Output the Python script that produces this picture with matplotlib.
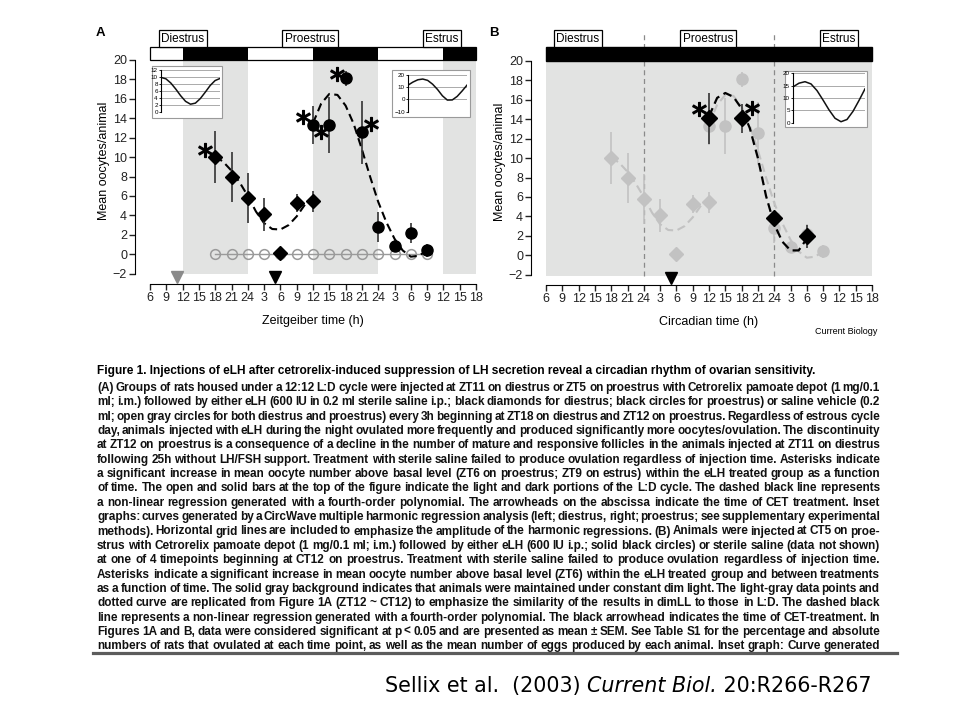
import numpy as np
import matplotlib
matplotlib.use("Agg")
import matplotlib.pyplot as plt
from matplotlib.patches import Rectangle

plt.rcParams['font.family'] = ['Liberation Sans', 'DejaVu Sans']

W, H = 960, 720

# ---- data (hours on a running clock: second day = ZT + 24) ----
tick_pos = list(range(6, 67, 3))
tick_labels = ['6', '9', '12', '15', '18', '21', '24', '3', '6', '9', '12', '15',
               '18', '21', '24', '3', '6', '9', '12', '15', '18']
y_ticks = [-2, 0, 2, 4, 6, 8, 10, 12, 14, 16, 18, 20]

dark_start = [12, 36, 60]
dark_end = [24, 48, 66]

diestrus_t = [18, 21, 24, 27, 30, 33, 36]
diestrus_y = [10.0, 7.95, 5.8, 4.1, 0.15, 5.3, 5.45]
diestrus_err = [2.65, 2.6, 2.6, 1.7, 0.0, 0.95, 1.1]

proestrus_t = [36, 39, 42, 45, 48, 51, 54, 57]
proestrus_y = [13.35, 13.3, 18.1, 12.55, 2.8, 0.82, 2.2, 0.4]
proestrus_err = [1.95, 2.85, 0.8, 3.25, 1.55, 0.6, 1.0, 0.7]

saline_t = [18, 21, 24, 27, 30, 33, 36, 39, 42, 45, 48, 51, 54, 57]
saline_y = [0, 0, 0, 0, 0, 0, 0, 0, 0, 0, 0, 0, 0, 0]

# fourth-order polynomial fits
fit_d_t = [18, 19.5, 21, 22.5, 24, 25.5, 27, 28.5, 30, 31.5, 33, 34.5]
fit_d_y = [10.1, 9.5, 8.6, 7.4, 6.0, 4.4, 3.2, 2.6, 2.55, 3.0, 3.9, 5.1]
fit_p_t = [36, 37.5, 39, 40.5, 42, 43.5, 45, 46.5, 48, 49.5, 51, 52.5, 54, 55.5, 57]
fit_p_y = [13.5, 15.5, 16.5, 16.4, 15.3, 13.4, 10.8, 8.0, 5.4, 3.3, 1.6, 0.4, -0.25, -0.15, 0.4]

star_a_t = [16.2, 34.2, 37.5, 40.4, 46.6]
star_a_y = [10.7, 14.1, 12.6, 18.6, 13.4]

cet_a_t = [11, 29]
cet_a_col = ['#8a8a8a', 'black']

# panel B (constant dim light)
dimll_t = [36, 42, 48, 54]
dimll_y = [14.1, 14.1, 3.8, 1.95]
dimll_err = [2.65, 1.5, 0.3, 1.2]
fit_b_t = [36, 37.5, 39, 40.5, 42, 43.5, 45, 46.5, 48, 49.5, 51, 52.5, 54]
fit_b_y = [14.3, 16.2, 16.7, 16.3, 15.1, 13.1, 10.0, 6.1, 3.2, 1.4, 0.5, 0.5, 1.7]
star_b_t = [34.2, 44.0]
star_b_y = [15.1, 15.2]
cet_b_t = [29]
ct_lines = [24, 48]

# inset curves (CircWave), x = hours of one cycle
inset_t = [0, 2, 4, 6, 8, 10, 12, 14, 16, 18, 20, 22, 24]
inset_di = [9.9, 9.5, 8.3, 6.6, 4.7, 3.1, 2.3, 2.6, 3.9, 5.7, 7.6, 9.0, 9.6]
inset_pro = [11.7, 14.2, 16.1, 16.7, 15.6, 12.5, 8.2, 3.0, -0.5, -0.4, 2.5, 6.9, 11.7]
inset_b = [14.5, 16.0, 16.6, 15.7, 13.0, 9.2, 5.2, 1.8, 0.4, 1.3, 4.6, 9.0, 13.7]

phases = ['Diestrus', 'Proestrus', 'Estrus']

caption_title = ("Figure 1. Injections of eLH after cetrorelix-induced suppression of LH "
                 "secretion reveal a circadian rhythm of ovarian sensitivity.")
caption_lines = [
    "(A) Groups of rats housed under a 12:12 L:D cycle were injected at ZT11 on diestrus or ZT5 on proestrus with Cetrorelix pamoate depot (1 mg/0.1",
    "ml; i.m.) followed by either eLH (600 IU in 0.2 ml sterile saline i.p.; black diamonds for diestrus; black circles for proestrus) or saline vehicle (0.2",
    "ml; open gray circles for both diestrus and proestrus) every 3h beginning at ZT18 on diestrus and ZT12 on proestrus. Regardless of estrous cycle",
    "day, animals injected with eLH during the night ovulated more frequently and produced significantly more oocytes/ovulation. The discontinuity",
    "at ZT12 on proestrus is a consequence of a decline in the number of mature and responsive follicles in the animals injected at ZT11 on diestrus",
    "following 25h without LH/FSH support. Treatment with sterile saline failed to produce ovulation regardless of injection time. Asterisks indicate",
    "a significant increase in mean oocyte number above basal level (ZT6 on proestrus; ZT9 on estrus) within the eLH treated group as a function",
    "of time. The open and solid bars at the top of the figure indicate the light and dark portions of the L:D cycle. The dashed black line represents",
    "a non-linear regression generated with a fourth-order polynomial. The arrowheads on the abscissa indicate the time of CET treatment. Inset",
    "graphs: curves generated by a CircWave multiple harmonic regression analysis (left; diestrus, right; proestrus; see supplementary experimental",
    "methods). Horizontal grid lines are included to emphasize the amplitude of the harmonic regressions. (B) Animals were injected at CT5 on proe-",
    "strus with Cetrorelix pamoate depot (1 mg/0.1 ml; i.m.) followed by either eLH (600 IU i.p.; solid black circles) or sterile saline (data not shown)",
    "at one of 4 timepoints beginning at CT12 on proestrus. Treatment with sterile saline failed to produce ovulation regardless of injection time.",
    "Asterisks indicate a significant increase in mean oocyte number above basal level (ZT6) within the eLH treated group and between treatments",
    "as a function of time. The solid gray background indicates that animals were maintained under constant dim light. The light-gray data points and",
    "dotted curve are replicated from Figure 1A (ZT12 ~ CT12) to emphasize the similarity of the results in dimLL to those in L:D. The dashed black",
    "line represents a non-linear regression generated with a fourth-order polynomial. The black arrowhead indicates the time of CET-treatment.  In",
    "Figures 1A and B, data were considered significant at p < 0.05 and are presented as mean \u00b1 SEM. See Table S1 for the percentage and absolute",
    "numbers of rats that ovulated at each time point, as well as the mean number of eggs produced by each animal. Inset graph: Curve generated",
]

SHADE = '#e2e3e2'
LGRAY = '#c2c2c2'
CAP_FS = 8.45


def rect(l, t, r, b):
    # pixel box (top-left origin) -> figure fraction rect
    return [l / W, 1 - b / H, (r - l) / W, (b - t) / H]


fig = plt.figure(figsize=(9.6, 7.2), dpi=100)


def style_main(ax, xlabel):
    ax.set_xlim(6, 66)
    ax.set_ylim(-3.1, 21.3)
    for s in ['top', 'right']:
        ax.spines[s].set_visible(False)
    ax.spines['left'].set_position(('outward', 11))
    ax.spines['left'].set_bounds(-2, 20)
    ax.spines['bottom'].set_bounds(6, 66)
    ax.set_xticks(tick_pos)
    ax.set_xticklabels(tick_labels)
    ax.set_yticks(y_ticks)
    ax.tick_params(labelsize=9, length=4, width=1, pad=1.5, colors='#222222')
    ax.set_xlabel(xlabel, fontsize=9)
    ax.xaxis.set_label_coords(0.5, -0.128)
    ax.set_ylabel('Mean oocytes/animal', fontsize=9)
    ax.yaxis.set_label_coords(-0.123, 0.52)
    ax.set_facecolor('none')


def inset(box, inner, t, y, ylim, yt):
    l, t0, r, b = box
    fig.patches.append(Rectangle((l / W, 1 - b / H), (r - l) / W, (b - t0) / H,
                                 transform=fig.transFigure, facecolor='white',
                                 edgecolor='#9a9a9a', linewidth=0.8, zorder=5))
    ia = fig.add_axes(rect(*inner), zorder=6)
    ia.set_facecolor('none')
    ia.plot(t, y, color='#111111', lw=1.1)
    ia.set_xlim(0, 24)
    ia.set_ylim(*ylim)
    ia.set_yticks(yt)
    ia.grid(axis='y', color='#aaaaaa', lw=0.7)
    ia.set_xticks([])
    for s in ['top', 'right', 'bottom']:
        ia.spines[s].set_visible(False)
    ia.spines['left'].set_linewidth(0.8)
    ia.tick_params(labelsize=4.5, length=1.5, width=0.6, pad=0.8)
    return ia


# ================= Panel A =================
axA = fig.add_axes(rect(150, 47.3, 476, 284.4))
style_main(axA, 'Zeitgeiber time (h)')
for s, e in zip(dark_start, dark_end):
    axA.add_patch(Rectangle((s, -2), e - s, 22, facecolor=SHADE, edgecolor='none', zorder=0))
# light/dark bar at the top
edges = sorted(set([6] + dark_start + dark_end + [66]))
for a, b in zip(edges[:-1], edges[1:]):
    dark = any(s <= a < e for s, e in zip(dark_start, dark_end))
    axA.add_patch(Rectangle((a, 20), b - a, 1.3, facecolor='black' if dark else 'white',
                            edgecolor='none', clip_on=False, zorder=3))
axA.add_patch(Rectangle((6, 20), 60, 1.3, facecolor='none', edgecolor='black',
                        lw=0.9, clip_on=False, zorder=4))

axA.plot(saline_t, saline_y, color='#9a9a9a', lw=1, marker='o', ms=7,
         mfc='none', mec='#9a9a9a', mew=1.1, zorder=2)
axA.plot(fit_d_t, fit_d_y, color='black', lw=1.5, ls=(0, (4, 2.2)), zorder=3)
axA.plot(fit_p_t, fit_p_y, color='black', lw=1.5, ls=(0, (4, 2.2)), zorder=3)
axA.errorbar(diestrus_t, diestrus_y, yerr=diestrus_err, fmt='D', ms=7, color='black',
             ecolor='#333333', elinewidth=1.2, capsize=0, zorder=4)
axA.errorbar(proestrus_t, proestrus_y, yerr=proestrus_err, fmt='o', ms=8, color='black',
             ecolor='#333333', elinewidth=1.2, capsize=0, zorder=4)
axA.plot(star_a_t, star_a_y, ls='none', marker='$*$', ms=10, color='black', zorder=5)
for t, c in zip(cet_a_t, cet_a_col):
    axA.plot([t], [-2.35], marker='v', ms=8, color=c, ls='none', clip_on=False, zorder=5)

inset((152, 66, 222, 118), (161, 70, 220, 112.3), inset_t, inset_di, (0, 12),
      [0, 2, 4, 6, 8, 10, 12])
inset((392, 70, 470, 117), (408, 75, 467, 111.7), inset_t, inset_pro, (-10, 20),
      [-10, 0, 10, 20])

# ================= Panel B =================
axB = fig.add_axes(rect(546, 48.3, 872, 285.4))
style_main(axB, 'Circadian time (h)')
axB.add_patch(Rectangle((6, -2.1), 60, 22.1, facecolor=SHADE, edgecolor='none', zorder=0))
axB.add_patch(Rectangle((6, 20), 60, 1.45, facecolor='black', edgecolor='black',
                        clip_on=False, zorder=3))
for t in ct_lines:
    axB.plot([t, t], [-2.1, 23.0], color='#8a8a8a', lw=0.9, ls=(0, (4, 3)),
             clip_on=False, zorder=1)
# replicated light-gray data from panel A
axB.plot(fit_d_t, fit_d_y, color=LGRAY, lw=1.5, ls=(0, (4, 2.2)), zorder=2)
axB.plot(fit_p_t, fit_p_y, color=LGRAY, lw=1.5, ls=(0, (4, 2.2)), zorder=2)
axB.errorbar(diestrus_t, diestrus_y, yerr=diestrus_err, fmt='D', ms=7, color=LGRAY,
             elinewidth=1.2, capsize=0, zorder=2)
axB.errorbar(proestrus_t, proestrus_y, yerr=proestrus_err, fmt='o', ms=8, color=LGRAY,
             elinewidth=1.2, capsize=0, zorder=2)
axB.plot(fit_b_t, fit_b_y, color='black', lw=1.6, ls=(0, (4, 2.2)), zorder=3)
axB.errorbar(dimll_t, dimll_y, yerr=dimll_err, fmt='D', ms=8, color='black',
             ecolor='#333333', elinewidth=1.2, capsize=0, zorder=4)
axB.plot(star_b_t, star_b_y, ls='none', marker='$*$', ms=10, color='black', zorder=5)
axB.plot(cet_b_t, [-2.35], marker='v', ms=8, color='black', ls='none', clip_on=False, zorder=5)

inset((785, 71, 867, 127), (793, 73.3, 865, 122.7), inset_t, inset_b, (0, 20),
      [0, 5, 10, 15, 20])

# phase labels and panel letters
for name, xa in zip(phases, [183, 310, 442]):
    fig.text(xa / W, 1 - 38.5 / H, name, ha='center', va='center', fontsize=8.5,
             bbox=dict(boxstyle='square,pad=0.2', fc='white', ec='black', lw=0.9))
for name, xb in zip(phases, [578, 708, 839]):
    fig.text(xb / W, 1 - 38.5 / H, name, ha='center', va='center', fontsize=8.5, zorder=6,
             bbox=dict(boxstyle='square,pad=0.2', fc='white', ec='black', lw=0.9))
fig.text(100 / W, 1 - 33 / H, 'A', fontsize=9.5, fontweight='bold', ha='center', va='center')
fig.text(494 / W, 1 - 33 / H, 'B', fontsize=9.5, fontweight='bold', ha='center', va='center')
fig.text(877 / W, 1 - 332 / H, 'Current Biology', fontsize=6.5, ha='right', va='center')

# ================= caption =================
renderer = fig.canvas.get_renderer()
x0, x1 = 97, 880
fig.text(x0 / W, 1 - 373.5 / H, caption_title, fontsize=CAP_FS + 0.15, fontweight='bold',
         va='baseline', ha='left')
for i, line in enumerate(caption_lines):
    yb = 391 + i * 14.35
    words = line.split()
    ts = [fig.text(0, 1 - yb / H, w, fontsize=CAP_FS, fontweight='bold', va='baseline',
                   ha='left', color='#111111') for w in words]
    ws = [t.get_window_extent(renderer).width for t in ts]
    gap = (x1 - x0 - sum(ws)) / (len(words) - 1)
    x = x0
    for t, w in zip(ts, ws):
        t.set_x(x / W)
        x += w + gap

fig.add_artist(plt.Line2D([93 / W, 897 / W], [1 - 653 / H, 1 - 653 / H], color='#5c5c5c',
                          lw=2.3, zorder=10))

# citation line
pieces = [('Sellix et al.  (2003) ', 'normal'), ('Current Biol.', 'italic'),
          (' 20:R266-R267', 'normal')]
x = 385
for txt, st in pieces:
    t = fig.text(x / W, 1 - 692 / H, txt, fontsize=14.9, style=st, va='baseline',
                 ha='left', family='DejaVu Sans')
    x += t.get_window_extent(renderer).width

fig.savefig('out.png', dpi=100)
